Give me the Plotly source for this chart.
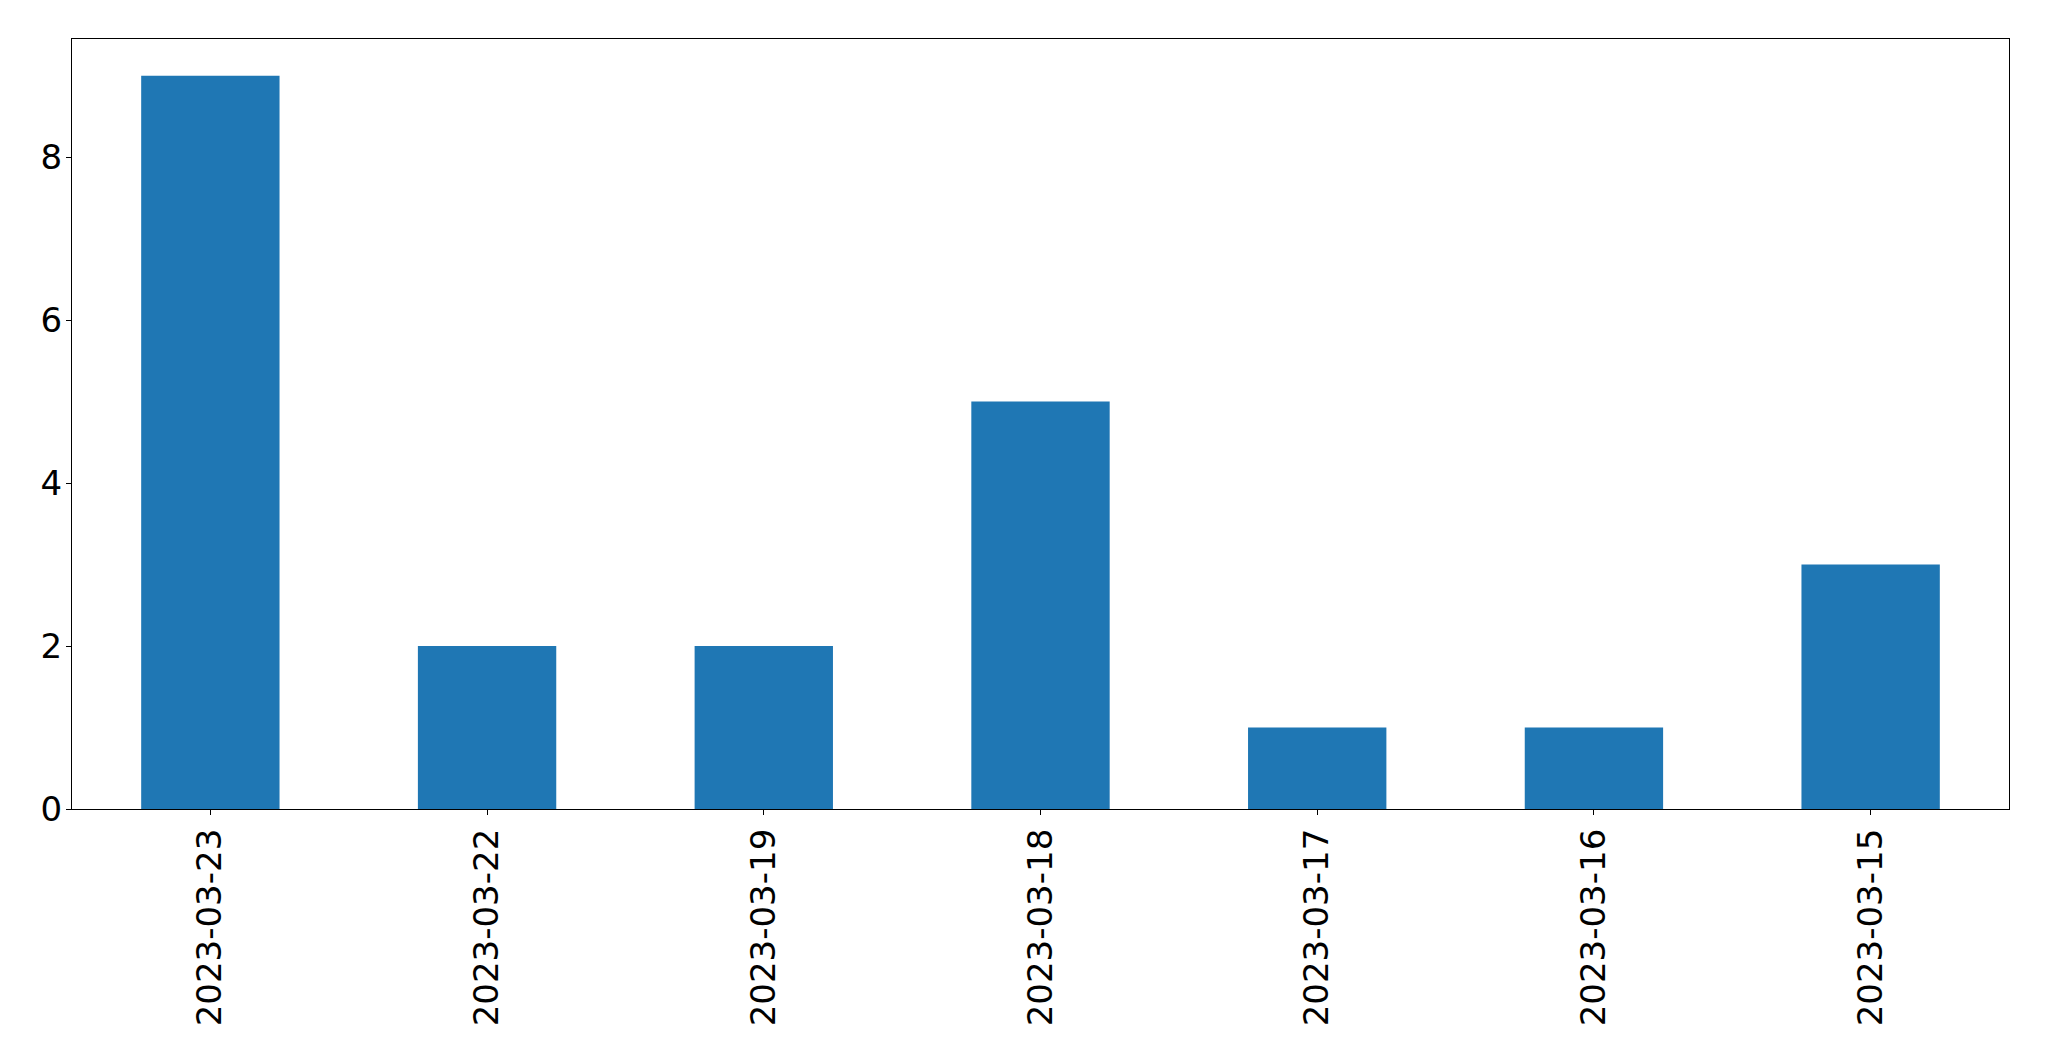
import plotly.graph_objects as go

dates = ["2023-03-23", "2023-03-22", "2023-03-19", "2023-03-18", "2023-03-17", "2023-03-16", "2023-03-15"]
counts = [9, 2, 2, 5, 1, 1, 3]
y_ticks = [0, 2, 4, 6, 8]

fig = go.Figure(go.Bar(x=dates, y=counts, marker=dict(color="#1f77b4", line=dict(width=0))))

font = dict(family="DejaVu Sans", size=34, color="black")
fig.update_layout(
    width=2033, height=1045,
    margin=dict(l=64, r=32, t=31, b=244, pad=0),
    paper_bgcolor="white", plot_bgcolor="white",
    bargap=0.5, showlegend=False,
    font=font,
)
fig.update_xaxes(type="category", tickangle=-90, ticks="outside", ticklen=5, tickwidth=1.3,
                 tickcolor="black", showline=True, mirror=True, linecolor="black", linewidth=1.3,
                 showgrid=False, tickfont=font, range=[-0.5, 6.5])
fig.update_yaxes(range=[0, 9.45], tickvals=y_ticks, ticks="outside", ticklen=5, tickwidth=1.3,
                 tickcolor="black", showline=True, mirror=True, linecolor="black", linewidth=1.3,
                 showgrid=False, zeroline=False, tickfont=font, ticklabelstandoff=-3)

fig.write_html("out.html")
